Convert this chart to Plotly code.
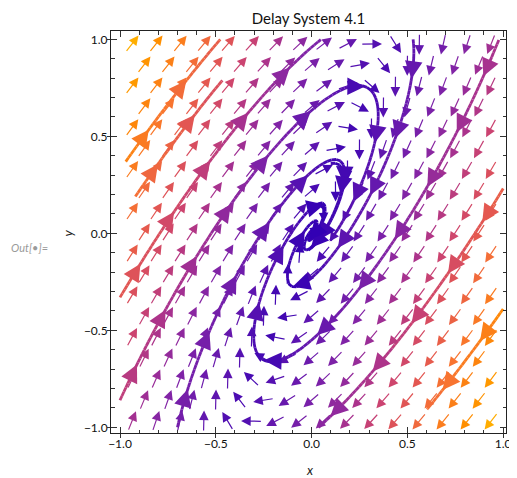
import numpy as np
import plotly.graph_objects as go

# ---------------- data ----------------
# linear vector field: dx/dt = FX[0]*x + FX[1]*y ; dy/dt = FY[0]*x + FY[1]*y
FX = [-1.75, 1.0]
FY = [-2.65, 0.85]

# hexagonal sampling grid of the small arrows
grid_rows_y = [0.976, 0.868, 0.760, 0.652, 0.544, 0.436, 0.328, 0.220, 0.112, 0.004,
               -0.104, -0.212, -0.320, -0.428, -0.536, -0.644, -0.752, -0.860, -0.968]
grid_cols_a = [-0.9375, -0.8125, -0.6875, -0.5625, -0.4375, -0.3125, -0.1875, -0.0625,
               0.0625, 0.1875, 0.3125, 0.4375, 0.5625, 0.6875, 0.8125, 0.9375]
grid_cols_b = [-0.875, -0.75, -0.625, -0.5, -0.375, -0.25, -0.125, 0.0,
               0.125, 0.25, 0.375, 0.5, 0.625, 0.75, 0.875]

# streamlines: a point on each line, length traced backward and forward from it
seed_x = [-0.97, -0.92, -1.0, -1.0, -0.70, 0.50, 0.43, 1.0, 0.53, 0.10, 0.05]
seed_y = [0.37, 0.19, -0.33, -0.86, -1.0, 0.07, -0.58, -0.39, 1.0, 0.36, 0.14]
seed_back = [0.0, 0.0, 0.0, 0.0, 0.0, 3.0, 3.0, 0.0, 0.0, 0.0, 0.0]
seed_fwd = [3.0, 0.75, 3.0, 3.0, 2.2, 3.0, 3.0, 0.65, 2.2, 0.7, 0.3]

# colour scale by speed (slow -> fast)
color_stops = [0.0, 0.12, 0.3, 0.42, 0.52, 0.62, 0.72, 0.85, 1.0]
color_hex = ["#3200b4", "#5c14b0", "#8224a6", "#a8328e", "#cc4470", "#e45850",
             "#f87430", "#ff8c00", "#ffc000"]

tick_vals = [-1.0, -0.5, 0.0, 0.5, 1.0]
tick_text = ["\u22121.0", "\u22120.5", "0.0", "0.5", "1.0"]

X_RANGE = [-1.047, 1.015]
Y_RANGE = [-1.029, 1.043]

# ---------------- geometry (page body adds an 8px offset) ----------------
OFF = 8
W, H = 517 - OFF, 478 - OFF
ML, MT = 111 - OFF, 31 - OFF
PW, PH = 400, 402
MR, MB = W - ML - PW, H - MT - PH
SX = PW / (X_RANGE[1] - X_RANGE[0])   # px per unit
SY = PH / (Y_RANGE[1] - Y_RANGE[0])


def px_to_paper_x(px):
    return (px - OFF - ML) / PW


def py_to_paper_y(py):
    return (MT + PH - (py - OFF)) / PH


def vel(x, y):
    return FX[0] * x + FX[1] * y, FY[0] * x + FY[1] * y


def hex2rgb(h):
    return tuple(int(h[i:i + 2], 16) for i in (1, 3, 5))


rgb_stops = [hex2rgb(h) for h in color_hex]


def cmap(t):
    t = min(max(t, 0.0), 1.0)
    for i in range(len(color_stops) - 1):
        if t <= color_stops[i + 1]:
            f = (t - color_stops[i]) / (color_stops[i + 1] - color_stops[i])
            c = [rgb_stops[i][k] + f * (rgb_stops[i + 1][k] - rgb_stops[i][k]) for k in range(3)]
            return "rgb(%d,%d,%d)" % tuple(int(round(v)) for v in c)
    return "rgb(%d,%d,%d)" % rgb_stops[-1]


corners = [(-1, -1), (-1, 1), (1, -1), (1, 1)]
VMAX = max(np.hypot(*vel(cx, cy)) for cx, cy in corners)


def speed_t(x, y):
    return np.hypot(*vel(x, y)) / VMAX


def unit_px(x, y):
    u, v = vel(x, y)
    pu, pv = u * SX, v * SY
    n = np.hypot(pu, pv)
    if n == 0:
        return 0.0, 1.0
    return pu / n, pv / n


def ndir(x, y, sgn):
    u, v = vel(x, y)
    n = np.hypot(u, v)
    if n < 1e-9:
        return 0.0, 0.0
    return sgn * u / n, sgn * v / n


def integrate(x0, y0, maxlen, sgn, h=0.004):
    pts = [(x0, y0)]
    x, y, s = x0, y0, 0.0
    while s < maxlen:
        k1 = ndir(x, y, sgn)
        k2 = ndir(x + h / 2 * k1[0], y + h / 2 * k1[1], sgn)
        k3 = ndir(x + h / 2 * k2[0], y + h / 2 * k2[1], sgn)
        k4 = ndir(x + h * k3[0], y + h * k3[1], sgn)
        dx = h / 6 * (k1[0] + 2 * k2[0] + 2 * k3[0] + k4[0])
        dy = h / 6 * (k1[1] + 2 * k2[1] + 2 * k3[1] + k4[1])
        if dx == 0 and dy == 0:
            break
        x, y = x + dx, y + dy
        s += h
        if x < -1.0005 or x > 1.0005 or y < -1.0005 or y > 1.0005:
            break
        pts.append((x, y))
    return pts


fig = go.Figure()
annotations = []

# ---------------- small vector arrows ----------------
ARROW_PX = 21.5
for r, gy in enumerate(grid_rows_y):
    cols = grid_cols_a if r % 2 == 0 else grid_cols_b
    for gx in cols:
        ux, uy = unit_px(gx, gy)
        hx = ux * ARROW_PX / 2 / SX
        hy = uy * ARROW_PX / 2 / SY
        annotations.append(dict(
            x=gx + hx, y=gy + hy, ax=gx - hx, ay=gy - hy,
            xref="x", yref="y", axref="x", ayref="y", text="",
            showarrow=True, arrowhead=2, arrowsize=1.6, arrowwidth=1.2,
            arrowcolor=cmap(speed_t(gx, gy))))

# ---------------- streamlines ----------------
NB = 32
bin_x = [[] for _ in range(NB)]
bin_y = [[] for _ in range(NB)]
head_ann = []
HEAD_SPACING = 0.32
HEAD_OFFSET = 0.2
HEAD_BACK = 0.07
for sx0, sy0, sb, sf in zip(seed_x, seed_y, seed_back, seed_fwd):
    back = integrate(sx0, sy0, sb, -1.0) if sb > 0 else [(sx0, sy0)]
    fwd = integrate(sx0, sy0, sf, 1.0)
    pts = back[::-1] + fwd[1:]
    if len(pts) < 3:
        continue
    arr = np.array(pts)
    seg = np.hypot(np.diff(arr[:, 0]), np.diff(arr[:, 1]))
    cum = np.concatenate([[0], np.cumsum(seg)])
    step = 6
    for i in range(0, len(pts) - 1, step):
        j = min(i + step, len(pts) - 1)
        mx, my = arr[(i + j) // 2]
        b = min(int(speed_t(mx, my) * NB), NB - 1)
        bin_x[b].extend(list(arr[i:j + 1, 0]) + [None])
        bin_y[b].extend(list(arr[i:j + 1, 1]) + [None])
    s = max(HEAD_OFFSET, HEAD_BACK + 0.01)
    while s < cum[-1] - 0.02:
        k = int(np.searchsorted(cum, s))
        k0 = int(np.searchsorted(cum, s - HEAD_BACK))
        tx, ty = arr[k]
        bx, by = arr[k0]
        head_ann.append(dict(
            x=tx, y=ty, ax=bx, ay=by, xref="x", yref="y", axref="x", ayref="y",
            text="", showarrow=True, arrowhead=2, arrowsize=1.3, arrowwidth=2.7,
            arrowcolor=cmap(speed_t(tx, ty))))
        s += HEAD_SPACING

for b in range(NB):
    if bin_x[b]:
        fig.add_trace(go.Scatter(
            x=bin_x[b], y=bin_y[b], mode="lines",
            line=dict(color=cmap((b + 0.5) / NB), width=2.8),
            hoverinfo="skip", showlegend=False))

# helper trace so that the outward major-tick axes are drawn
fig.add_trace(go.Scatter(x=[None], y=[None], xaxis="x2", yaxis="y2",
                         mode="markers", hoverinfo="skip", showlegend=False))

annotations.extend(head_ann)

# ---------------- labels ----------------
annotations.append(dict(text="<i>y</i>", x=px_to_paper_x(67), y=py_to_paper_y(233),
                        xref="paper", yref="paper", showarrow=False, textangle=-90,
                        xanchor="center", yanchor="middle",
                        font=dict(family="Lato", size=13, color="#222")))
annotations.append(dict(text="<i>x</i>", x=px_to_paper_x(313), y=py_to_paper_y(470),
                        xref="paper", yref="paper", showarrow=False,
                        xanchor="center", yanchor="middle",
                        font=dict(family="Lato", size=13, color="#222")))
annotations.append(dict(text="<i>Out[\u2022]=</i>", x=px_to_paper_x(28), y=py_to_paper_y(247),
                        xref="paper", yref="paper", showarrow=False,
                        xanchor="center", yanchor="middle",
                        font=dict(family="Lato", size=11, color="#9a9a9a")))

axis_common = dict(
    showline=True, linecolor="#222", linewidth=1, mirror="allticks",
    ticks="inside", ticklen=6, tickcolor="#333", tickwidth=1,
    tickvals=tick_vals, ticktext=tick_text,
    minor=dict(ticks="inside", ticklen=3.5, dtick=0.1, tick0=0, tickcolor="#333"),
    showgrid=False, zeroline=False, ticklabeloverflow="allow",
    tickfont=dict(family="Lato", size=12, color="#111"),
)
outer_ticks = dict(
    showline=False, ticks="outside", ticklen=3.5, tickcolor="#333", tickwidth=1,
    tickvals=tick_vals, showticklabels=False, showgrid=False, zeroline=False,
)
fig.update_layout(
    xaxis=dict(range=X_RANGE, **axis_common),
    yaxis=dict(range=Y_RANGE, **axis_common),
    xaxis2=dict(range=X_RANGE, overlaying="x", anchor="y", side="bottom", **outer_ticks),
    yaxis2=dict(range=Y_RANGE, overlaying="y", anchor="x", side="left", **outer_ticks),
)

fig.update_layout(
    width=W, height=H,
    margin=dict(l=ML, r=MR, t=MT, b=MB),
    paper_bgcolor="white", plot_bgcolor="white",
    title=dict(text="Delay System 4.1", x=0.5, xref="paper", y=1 - (19 - OFF) / H, yref="container",
               xanchor="center", yanchor="middle",
               font=dict(family="Lato", size=15, color="#111")),
    annotations=annotations,
    showlegend=False,
)

fig.write_html("out.html")
